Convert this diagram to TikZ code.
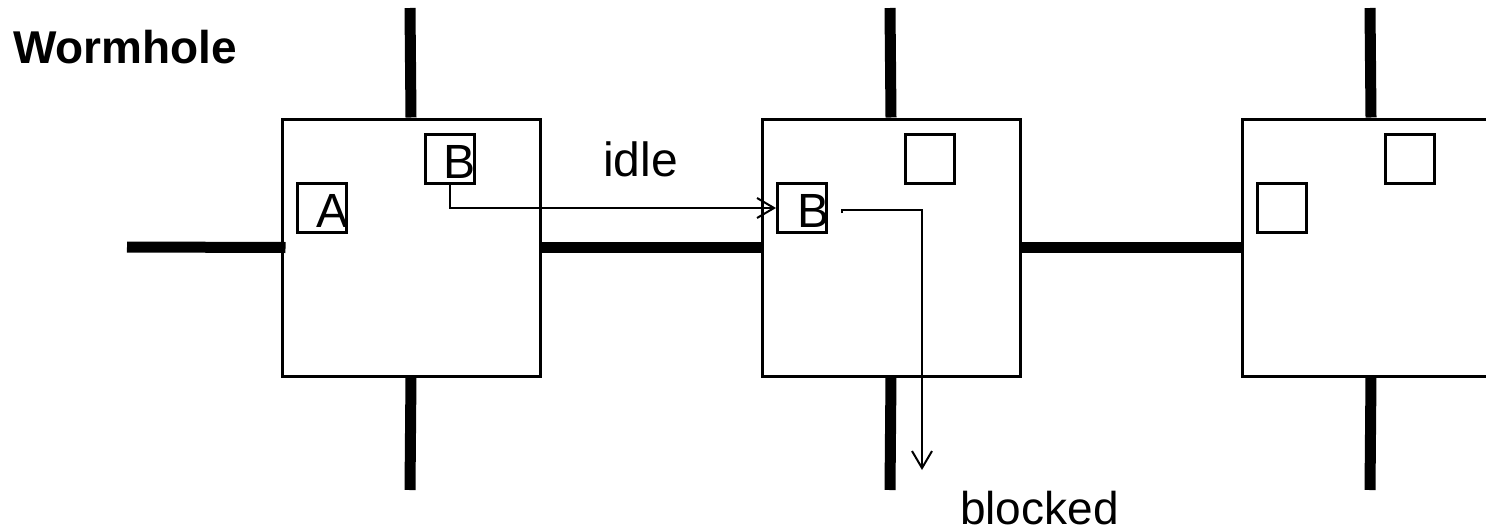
\documentclass[tikz,border=0pt]{standalone}
\usepackage{fontspec}
\setmainfont{Liberation Sans}
\usetikzlibrary{arrows.meta}
\begin{document}
\begin{tikzpicture}[x=1pt,y=-1pt,
  router/.style={draw,line width=3pt,minimum width=258pt,minimum height=257pt,inner sep=0pt},
  sbox/.style={draw,line width=3pt,minimum size=49pt,inner sep=0pt},
  letter/.style={inner sep=0pt,anchor=base,font=\fontsize{48}{52}\selectfont},
  lbl/.style={inner sep=0pt,anchor=base west,font=\fontsize{46}{50}\selectfont},
  bar/.style={line width=11pt},
  arr/.style={line width=2pt,-{Straight Barb[length=17pt,width=20pt,line width=2pt]}}
]
\useasboundingbox (0,0) rectangle (1486,530);
\clip (0,0) rectangle (1486,530);
\fill[white] (0,0) rectangle (1486,530);

% routers
\node[router] (r1) at (411,247.5) {};
\node[router] (r2) at (891,247.5) {};
\node[router] (r3) at (1371,247.5) {};

% bar end points
\coordinate (l0) at (127,247);
\coordinate (t1) at (410,8);   \coordinate (b1e) at (410,490);
\coordinate (t2) at (890,8);   \coordinate (b2e) at (890,490);
\coordinate (t3) at (1370,8);  \coordinate (b3e) at (1370,490);

% thick channels
\draw[bar] (l0) -- ([xshift=5pt]r1.west);
\draw[bar] (r1.east) -- (r2.west);
\draw[bar] (r2.east) -- (r3.west);
\draw[bar] (t1) -- (r1.north);
\draw[bar] (t2) -- (r2.north);
\draw[bar] (t3) -- (r3.north);
\draw[bar] ([yshift=2pt]r1.south) -- (b1e);
\draw[bar] ([yshift=2pt]r2.south) -- (b2e);
\draw[bar] ([yshift=2pt]r3.south) -- (b3e);
\node[router,fill=none] at (411,247.5) {};
\node[router,fill=none] at (891,247.5) {};
\node[router,fill=none] at (1371,247.5) {};

% buffers
\node[sbox] (a1) at (322,208) {};
\node[sbox] (bb1) at (450,159) {};
\node[sbox] (bb2) at (802,208) {};
\node[sbox] (e2) at (930,159) {};
\node[sbox] (e3a) at (1282,208) {};
\node[sbox] (e3b) at (1410,159) {};

\node[letter] (la) at (333,227) {A};
\node[letter] (lb1) at (460,178) {B};
\node[letter] (lb2) at (813,227) {B};

% arrows
\draw[arr] (bb1.south) |- (bb2.west);
\coordinate (s2) at (842,213);
\coordinate (e2end) at (922,470);
\draw[arr] (s2) -- ++(0,-3) -| (e2end);

% labels
\node[lbl,font=\bfseries\fontsize{46}{50}\selectfont] (title) at (13,63) {Wormhole};
\node[lbl,font=\fontsize{48}{52}\selectfont] (idle) at (603,176) {idle};
\node[lbl] (blocked) at (960,524) {blocked};
\end{tikzpicture}
\end{document}
